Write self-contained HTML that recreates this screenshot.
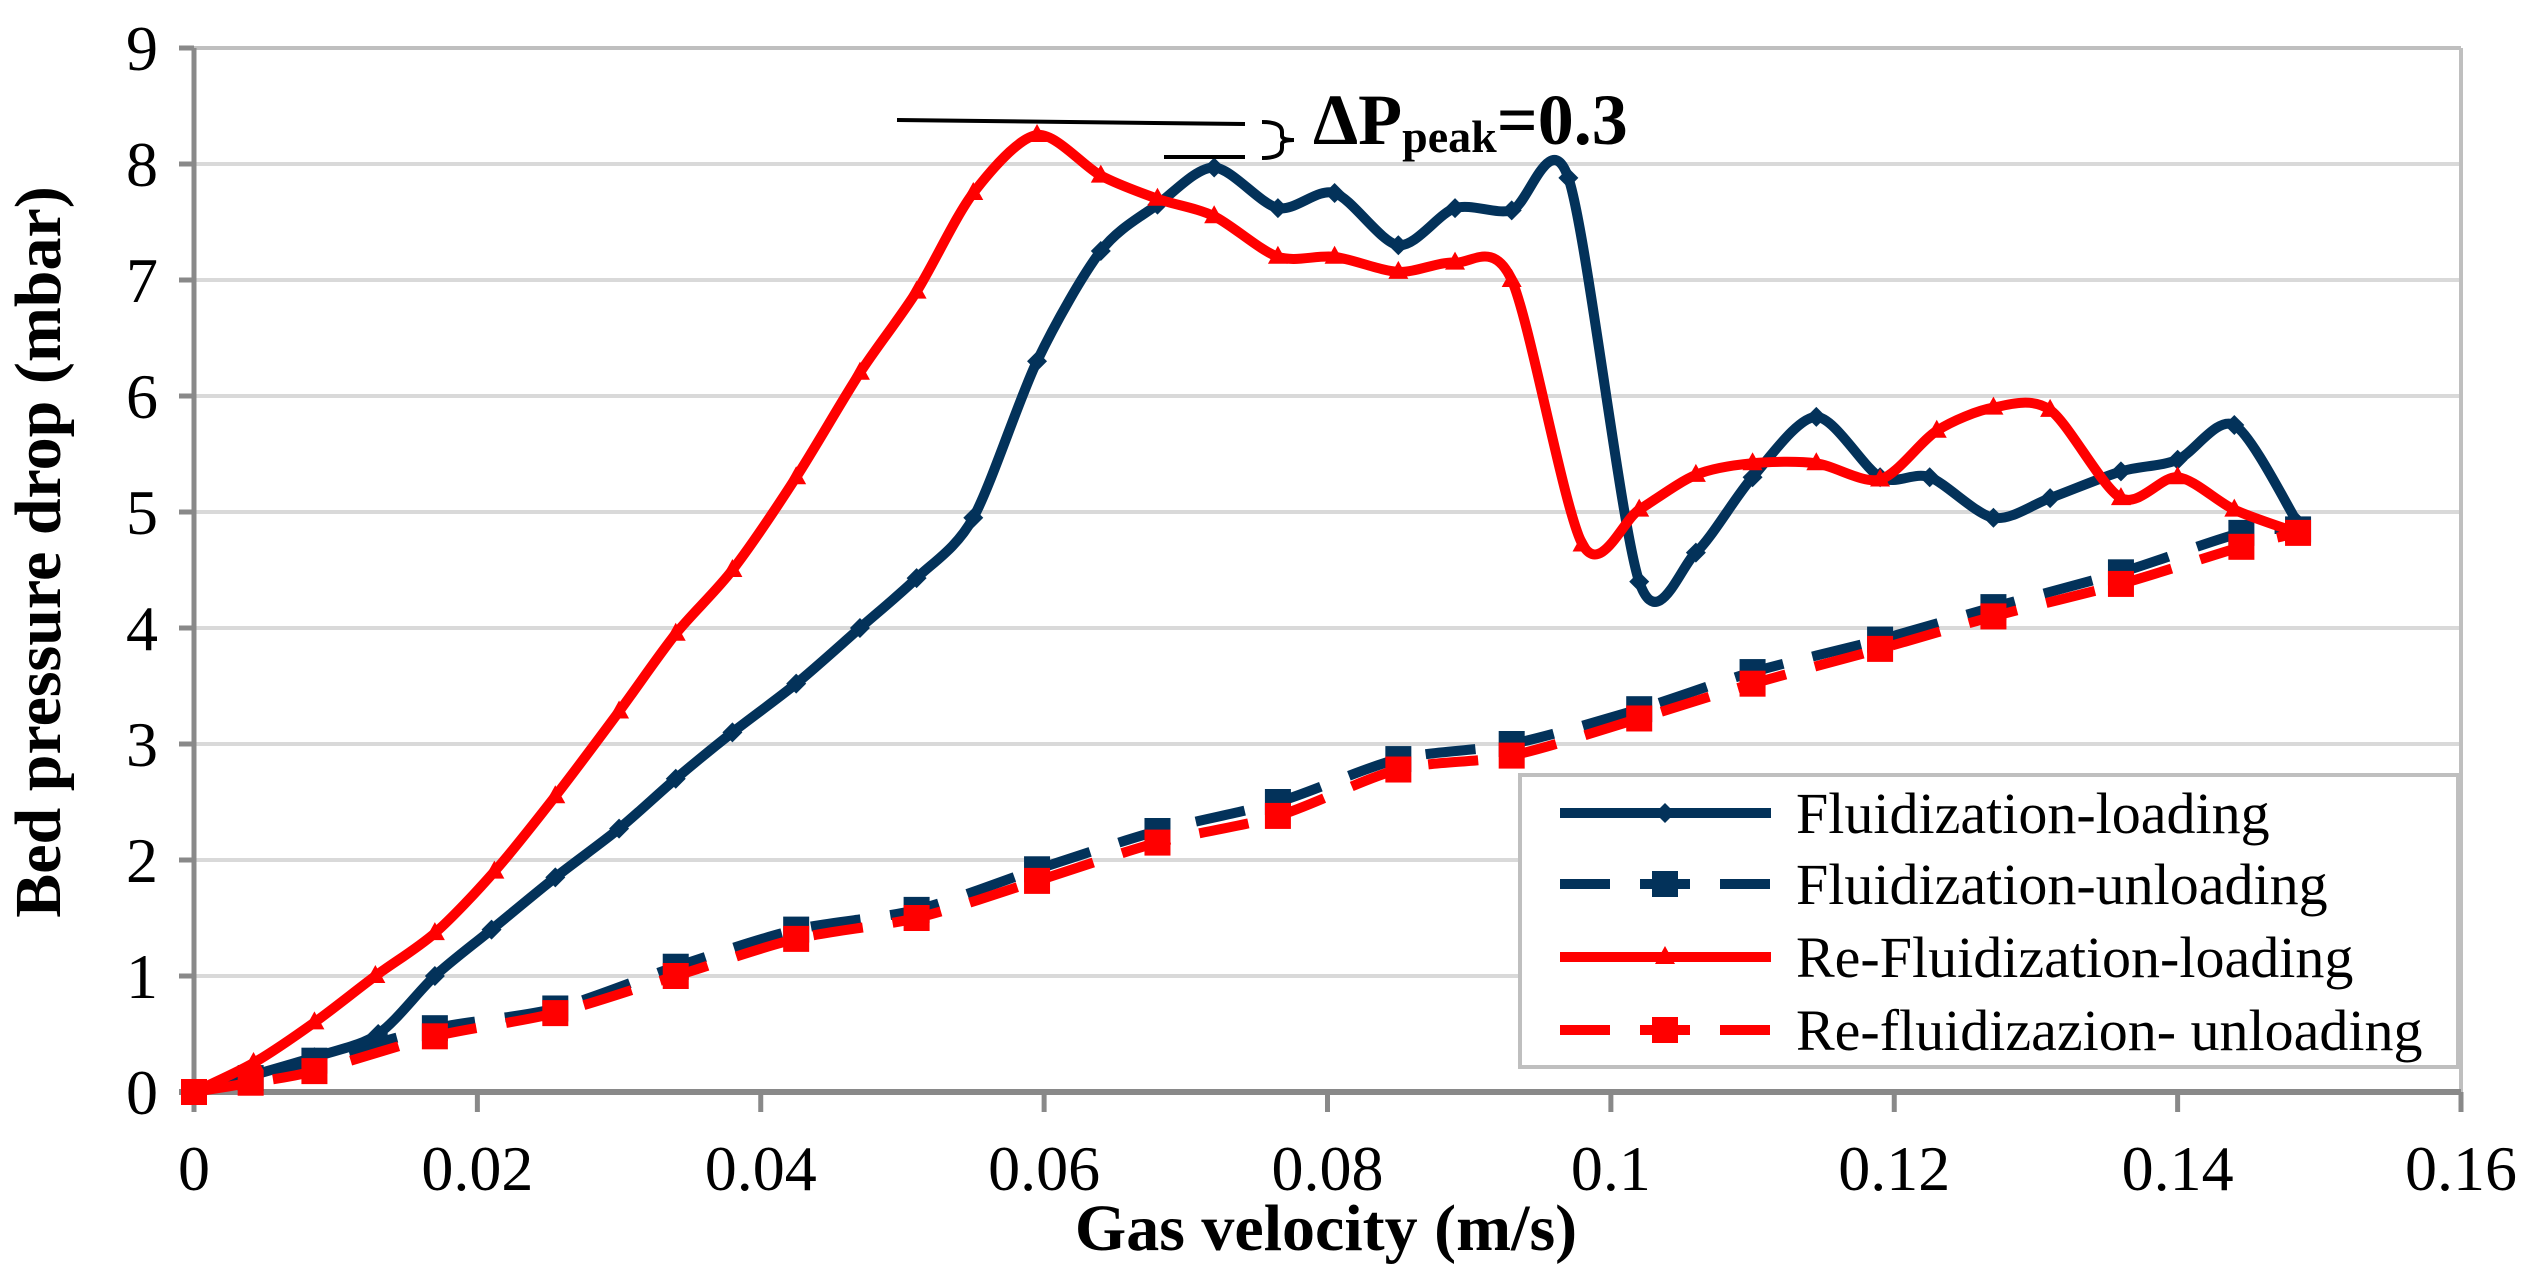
<!DOCTYPE html>
<html><head><meta charset="utf-8"><style>
html,body{margin:0;padding:0;background:#fff;}
svg{display:block;font-family:"Liberation Serif",serif;}
</style></head><body>
<svg id="chart" width="2536" height="1279" viewBox="0 0 2536 1279" xmlns="http://www.w3.org/2000/svg">
<g id="grid"></g>
<g id="axes"></g>
<g id="series"></g>
<g id="annot">
  <line x1="897" y1="120" x2="1245" y2="124" stroke="#000" stroke-width="4"/>
  <line x1="1164" y1="157" x2="1245" y2="157" stroke="#000" stroke-width="4"/>
  <path d="M1262 122 Q1282 122 1282 132 L1282 136 Q1282 140 1294 140 Q1282 140 1282 144 L1282 148 Q1282 158 1262 158" fill="none" stroke="#000" stroke-width="4"/>
  <text x="1313" y="144" font-size="72" font-weight="bold">ΔP<tspan font-size="46" dy="8">peak</tspan><tspan dy="-8">=0.3</tspan></text>
</g>
<g id="legend"></g>
<text x="1326" y="1250" font-size="66" font-weight="bold" text-anchor="middle">Gas velocity (m/s)</text>
<text transform="translate(60,552) rotate(-90)" font-size="66" font-weight="bold" text-anchor="middle">Bed pressure drop (mbar)</text>
</svg>
<script>
const xTicks=[0,0.02,0.04,0.06,0.08,0.1,0.12,0.14,0.16];
const xTickLabels=["0","0.02","0.04","0.06","0.08","0.1","0.12","0.14","0.16"];
const yTicks=[0,1,2,3,4,5,6,7,8,9];
const flLoadX=[0,0.0085,0.013,0.017,0.021,0.0255,0.03,0.034,0.038,0.0425,0.047,0.051,0.055,0.0595,0.064,0.068,0.072,0.0765,0.0805,0.085,0.089,0.093,0.097,0.102,0.106,0.11,0.1145,0.119,0.1225,0.127,0.131,0.136,0.14,0.144,0.1485];
const flLoadY=[0,0.3,0.5,1.0,1.4,1.85,2.27,2.7,3.1,3.52,4.0,4.43,4.95,6.3,7.25,7.65,7.97,7.62,7.75,7.3,7.62,7.6,7.88,4.4,4.65,5.3,5.82,5.3,5.3,4.95,5.12,5.35,5.45,5.75,4.9];
const reLoadX=[0,0.0042,0.0085,0.0128,0.017,0.0212,0.0255,0.03,0.034,0.038,0.0425,0.047,0.051,0.055,0.0595,0.064,0.068,0.072,0.0765,0.0805,0.085,0.089,0.093,0.098,0.102,0.106,0.11,0.1145,0.119,0.123,0.127,0.131,0.136,0.14,0.144,0.1485];
const reLoadY=[0,0.25,0.6,1.0,1.37,1.9,2.55,3.28,3.95,4.5,5.3,6.2,6.9,7.75,8.25,7.9,7.7,7.55,7.2,7.2,7.07,7.15,7.0,4.72,5.02,5.32,5.42,5.42,5.28,5.7,5.9,5.88,5.12,5.3,5.02,4.82];
const unloadX=[0,0.004,0.0085,0.017,0.0255,0.034,0.0425,0.051,0.0595,0.068,0.0765,0.085,0.093,0.102,0.11,0.119,0.127,0.136,0.1445,0.1485];
const flUnloadY=[0,0.12,0.27,0.55,0.72,1.08,1.4,1.57,1.92,2.25,2.5,2.87,3.0,3.3,3.62,3.9,4.18,4.48,4.82,4.85];
const reUnloadY=[0,0.08,0.18,0.48,0.68,1.0,1.32,1.5,1.82,2.15,2.38,2.78,2.9,3.22,3.52,3.82,4.1,4.38,4.7,4.82];
const seriesNames=["Fluidization-loading","Fluidization-unloading","Re-Fluidization-loading","Re-fluidizazion- unloading"];

const X0=194,X1=2461,Y0=1092,Y1=48;
const sx=v=>X0+(v-0)/(0.16)*(X1-X0);
const sy=v=>Y0-(v/9)*(Y0-Y1);
const NS="http://www.w3.org/2000/svg";
function mk(tag,attrs,parent){const e=document.createElementNS(NS,tag);for(const k in attrs)e.setAttribute(k,attrs[k]);parent.appendChild(e);return e;}
const grid=document.getElementById('grid'),axes=document.getElementById('axes'),series=document.getElementById('series'),legend=document.getElementById('legend');
yTicks.forEach(t=>{
  if(t>0){const g=mk('line',{x1:X0,x2:X1,y1:sy(t),y2:sy(t),stroke:t==9?'#bfbfbf':'#d9d9d9','stroke-width':4},grid);
  
  }
  const tk=mk('line',{x1:X0-15,x2:X0,y1:sy(t),y2:sy(t),stroke:'#898989','stroke-width':5},axes);
  
  
  const tl=mk('text',{x:158,y:sy(t)+22,'font-size':64,'text-anchor':'end'},axes);tl.textContent=t;
  
  
});
mk('line',{x1:X1,x2:X1,y1:Y1,y2:Y0,stroke:'#bfbfbf','stroke-width':4},grid);
xTicks.forEach((t,i)=>{
  const tk=mk('line',{x1:sx(t),x2:sx(t),y1:Y0,y2:Y0+20,stroke:'#898989','stroke-width':5},axes);
  
  
  const tl=mk('text',{x:sx(t),y:1190,'font-size':64,'text-anchor':'middle'},axes);tl.textContent=xTickLabels[i];
  
  
});
const ya=mk('line',{x1:X0,x2:X0,y1:Y1,y2:Y0+20,stroke:'#898989','stroke-width':5},axes);


const xa=mk('line',{x1:X0-15,x2:X1,y1:Y0,y2:Y0,stroke:'#898989','stroke-width':6},axes);



function smooth(pts){
  let d='M'+pts[0][0]+' '+pts[0][1];
  for(let i=0;i<pts.length-1;i++){
    const p0=pts[Math.max(0,i-1)],p1=pts[i],p2=pts[i+1],p3=pts[Math.min(pts.length-1,i+2)];
    const t=7;
    d+=' C'+(p1[0]+(p2[0]-p0[0])/t)+' '+(p1[1]+(p2[1]-p0[1])/t)+' '+(p2[0]-(p3[0]-p1[0])/t)+' '+(p2[1]-(p3[1]-p1[1])/t)+' '+p2[0]+' '+p2[1];
  }
  return d;
}
function marker(type,x,y,color,g){
  let m;
  if(type==='diamond') m=mk('path',{d:`M${x} ${y-10} L${x+10} ${y} L${x} ${y+10} L${x-10} ${y}Z`,fill:color},g);
  else if(type==='square') m=mk('rect',{x:x-13,y:y-13,width:26,height:26,fill:color},g);
  else m=mk('path',{d:`M${x} ${y-11} L${x+10} ${y+7} L${x-10} ${y+7}Z`,fill:color},g);
  return m;
}
function drawSeries(xs,ys,color,dash,mtype,name){
  const g=mk('g',{},series);
  
  
  const pts=xs.map((x,i)=>[sx(x),sy(ys[i])]);
  const p=mk('path',{d:smooth(pts),fill:'none',stroke:color,'stroke-width':10,'stroke-dasharray':dash||'none','stroke-linejoin':'round'},g);
  
  
  pts.forEach((q,i)=>{const m=marker(mtype,q[0],q[1],color,g);
    
    });
}
drawSeries(unloadX,flUnloadY,'#03325a','50 30','square','fluidization-unloading');
drawSeries(flLoadX,flLoadY,'#03325a','','diamond','fluidization-loading');
drawSeries(unloadX,reUnloadY,'#ff0000','50 30','square','re-fluidization-unloading');
drawSeries(reLoadX,reLoadY,'#ff0000','','triangle','re-fluidization-loading');

const lb=mk('rect',{x:1520,y:775,width:938,height:292,fill:'#fff',stroke:'#bfbfbf','stroke-width':4},legend);


const lc=['#03325a','#03325a','#ff0000','#ff0000'],ld=['','50 30','','50 30'],lm=['diamond','square','triangle','square'];
const rows=[813,884,957,1030];
seriesNames.forEach((n,i)=>{
  const g=mk('g',{},legend);
  
  
  mk('line',{x1:1560,x2:1771,y1:rows[i],y2:rows[i],stroke:lc[i],'stroke-width':10,'stroke-dasharray':ld[i]||'none'},g);
  marker(lm[i],1665,rows[i],lc[i],g);
  const t=mk('text',{x:1796,y:rows[i]+20,'font-size':58},g);t.textContent=n;
});
</script>
</body></html>
